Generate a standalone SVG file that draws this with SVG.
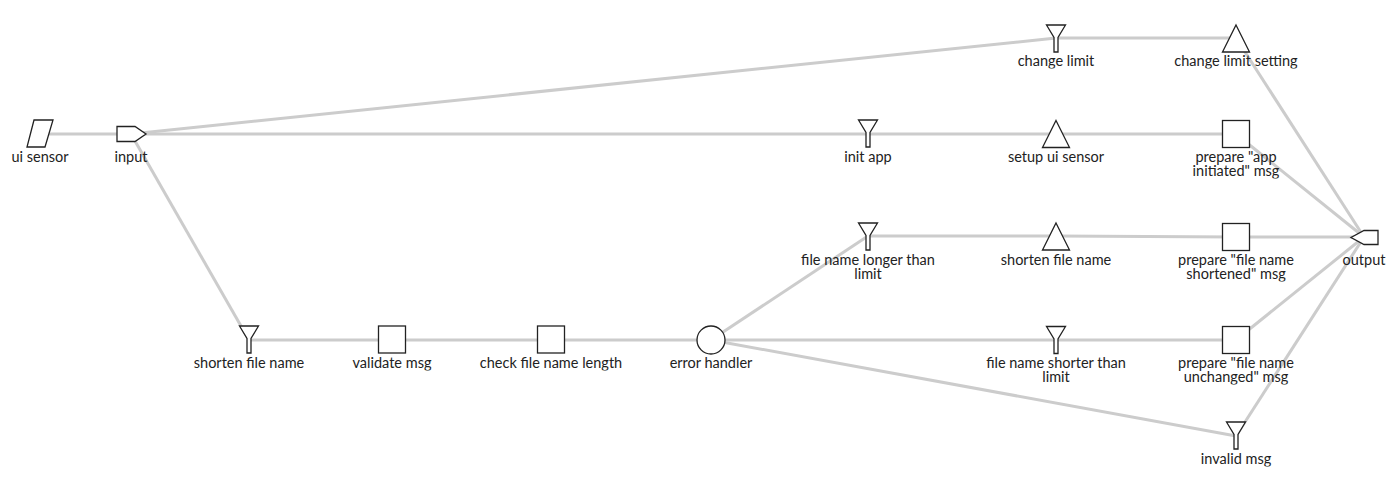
<svg xmlns="http://www.w3.org/2000/svg" width="1400" height="489" viewBox="0 0 1400 489">
<style>
.e{stroke:#cccccc;stroke-width:3;fill:none}
.n{fill:#ffffff;stroke:#222222;stroke-width:1.3}
text{font-family:Lato,"Noto Sans","Liberation Sans",sans-serif;font-size:14.5px;fill:#222222;text-anchor:middle}
</style>
<defs>
<path id="funnel" d="M-9.5,-13.5 L9.5,-13.5 L2,-1 L2,13.5 L-2,13.5 L-2,-1 Z"/>
<path id="tri" d="M0,-13.5 L13.5,13.5 L-13.5,13.5 Z"/>
<rect id="sq" x="-13.5" y="-13.5" width="27" height="27"/>
<clipPath id="c1">
<rect x="0" y="38" width="1400" height="30.5"/>
<rect x="0" y="134" width="1400" height="30.5"/>
<rect x="0" y="237" width="1400" height="30.5"/>
<rect x="0" y="340" width="1400" height="30.5"/>
<rect x="0" y="436" width="1400" height="30.5"/>
</clipPath>
<clipPath id="c2">
<rect x="0" y="134" width="1400" height="44.5"/>
<rect x="0" y="237" width="1400" height="44.5"/>
<rect x="0" y="340" width="1400" height="44.5"/>
</clipPath>
</defs>
<rect width="1400" height="489" fill="#ffffff"/>
<g id="connectors">
<line class="e" x1="40" y1="134" x2="131" y2="134"/>
<line class="e" x1="131" y1="134" x2="1056" y2="38"/>
<line class="e" x1="131" y1="134" x2="868" y2="134"/>
<line class="e" x1="131" y1="134" x2="249" y2="340"/>
<line class="e" x1="1056" y1="38" x2="1236" y2="38"/>
<line class="e" x1="1236" y1="38" x2="1364" y2="237"/>
<line class="e" x1="868" y1="134" x2="1056" y2="134"/>
<line class="e" x1="1056" y1="134" x2="1236" y2="134"/>
<line class="e" x1="1236" y1="134" x2="1364" y2="237"/>
<line class="e" x1="249" y1="340" x2="392" y2="340"/>
<line class="e" x1="392" y1="340" x2="551" y2="340"/>
<line class="e" x1="551" y1="340" x2="711" y2="340"/>
<line class="e" x1="711" y1="340" x2="868" y2="236"/>
<line class="e" x1="711" y1="340" x2="1056" y2="340"/>
<line class="e" x1="711" y1="340" x2="1236" y2="436"/>
<line class="e" x1="868" y1="236" x2="1056" y2="236"/>
<line class="e" x1="1056" y1="236" x2="1236" y2="237"/>
<line class="e" x1="1236" y1="237" x2="1364" y2="237"/>
<line class="e" x1="1056" y1="340" x2="1236" y2="340"/>
<line class="e" x1="1236" y1="340" x2="1364" y2="237"/>
<line class="e" x1="1236" y1="436" x2="1364" y2="237"/>
</g>
<g id="ui-sensor"><path class="n" d="M34,120 L53,120 L45,147 L27,147 Z"/><text x="40" y="162" clip-path="url(#c1)">ui sensor</text></g>
<g id="input"><path class="n" d="M117,126.5 L135,126.5 L146,134 L135,141.5 L117,141.5 Z"/><text x="131" y="162" clip-path="url(#c1)">input</text></g>
<g id="change-limit"><use href="#funnel" class="n" x="1056" y="38.5"/><text x="1056" y="66" clip-path="url(#c1)">change limit</text></g>
<g id="change-limit-setting"><use href="#tri" class="n" x="1236" y="38.5"/><text x="1236" y="66" clip-path="url(#c1)">change limit setting</text></g>
<g id="init-app"><use href="#funnel" class="n" x="868" y="133.5"/><text x="868" y="162" clip-path="url(#c1)">init app</text></g>
<g id="setup-ui-sensor"><use href="#tri" class="n" x="1056" y="134"/><text x="1056" y="162" clip-path="url(#c1)">setup ui sensor</text></g>
<g id="prepare-app-initiated"><use href="#sq" class="n" x="1236" y="134"/><text x="1236" y="162" clip-path="url(#c2)"><tspan x="1236">prepare "app</tspan><tspan x="1236" dy="14">initiated" msg</tspan></text></g>
<g id="file-name-longer"><use href="#funnel" class="n" x="868" y="236.5"/><text x="868" y="265" clip-path="url(#c2)"><tspan x="868">file name longer than</tspan><tspan x="868" dy="14">limit</tspan></text></g>
<g id="shorten-file-name-2"><use href="#tri" class="n" x="1056" y="236.5"/><text x="1056" y="265" clip-path="url(#c1)">shorten file name</text></g>
<g id="prepare-shortened"><use href="#sq" class="n" x="1236" y="237"/><text x="1236" y="265" clip-path="url(#c2)"><tspan x="1236">prepare "file name</tspan><tspan x="1236" dy="14">shortened" msg</tspan></text></g>
<g id="output"><path class="n" d="M1378,230.5 L1364,230.5 L1351,237.5 L1364,244.5 L1378,244.5 Z"/><text x="1364" y="265" clip-path="url(#c1)">output</text></g>
<g id="shorten-file-name"><use href="#funnel" class="n" x="249" y="339.5"/><text x="249" y="368" clip-path="url(#c1)">shorten file name</text></g>
<g id="validate-msg"><use href="#sq" class="n" x="392" y="339.5"/><text x="392" y="368" clip-path="url(#c1)">validate msg</text></g>
<g id="check-file-name-length"><use href="#sq" class="n" x="551" y="339.5"/><text x="551" y="368" clip-path="url(#c1)">check file name length</text></g>
<g id="error-handler"><circle class="n" cx="711" cy="340" r="14"/><text x="711" y="368" clip-path="url(#c1)">error handler</text></g>
<g id="file-name-shorter"><use href="#funnel" class="n" x="1056" y="340"/><text x="1056" y="368" clip-path="url(#c2)"><tspan x="1056">file name shorter than</tspan><tspan x="1056" dy="14">limit</tspan></text></g>
<g id="prepare-unchanged"><use href="#sq" class="n" x="1236" y="340"/><text x="1236" y="368" clip-path="url(#c2)"><tspan x="1236">prepare "file name</tspan><tspan x="1236" dy="14">unchanged" msg</tspan></text></g>
<g id="invalid-msg"><use href="#funnel" class="n" x="1236" y="435.5"/><text x="1236" y="464" clip-path="url(#c1)">invalid msg</text></g>
</svg>
